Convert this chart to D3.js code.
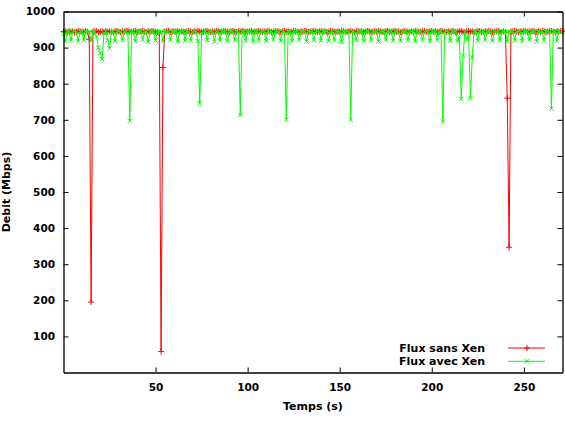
<!DOCTYPE html>
<html>
<head>
<meta charset="utf-8">
<script src="https://cdn.jsdelivr.net/npm/d3@7"></script>
<style>
  body { margin: 0; background: #fff; }
  text { font-family: "DejaVu Sans", sans-serif; font-weight: bold; }
</style>
</head>
<body>
<div id="chart"></div>
<script>
// one sample per second, t = 0 .. 271
const seriesNames = ['Flux sans Xen', 'Flux avec Xen'];
const xTicks = [50, 100, 150, 200, 250];
const yTicks = [100, 200, 300, 400, 500, 600, 700, 800, 900, 1000];

const sansXen = [
  944, 945, 943, 946, 944, 945, 942, 944, 946, 945,
  944, 943, 945, 944, 923, 195, 944, 945, 946, 943,
  944, 945, 943, 946, 944, 945, 944, 942, 945, 946,
  944, 943, 945, 944, 946, 945, 943, 944, 945, 946,
  943, 944, 945, 946, 944, 943, 945, 944, 946, 945,
  944, 943, 940, 58, 845, 944, 945, 946, 943, 944,
  945, 944, 946, 943, 945, 944, 942, 945, 946, 944,
  943, 945, 944, 946, 945, 943, 944, 945, 946, 944,
  943, 945, 944, 946, 945, 943, 944, 946, 945, 944,
  943, 945, 946, 944, 943, 945, 944, 946, 945, 943,
  944, 945, 946, 943, 944, 945, 946, 944, 943, 945,
  944, 946, 945, 943, 944, 945, 946, 944, 943, 945,
  946, 944, 945, 943, 944, 946, 945, 944, 943, 945,
  944, 946, 945, 943, 944, 945, 946, 944, 943, 945,
  946, 944, 945, 943, 944, 946, 945, 944, 943, 945,
  944, 946, 945, 943, 944, 945, 946, 944, 943, 945,
  946, 944, 945, 943, 944, 946, 945, 944, 943, 945,
  944, 946, 945, 943, 944, 945, 946, 944, 943, 945,
  946, 944, 945, 943, 944, 946, 945, 944, 943, 945,
  944, 946, 945, 943, 944, 945, 946, 944, 943, 945,
  946, 944, 945, 943, 944, 946, 945, 944, 943, 945,
  944, 946, 945, 943, 944, 945, 946, 944, 943, 945,
  946, 944, 945, 943, 944, 946, 945, 944, 943, 945,
  944, 946, 945, 943, 944, 945, 946, 944, 943, 945,
  942, 760, 347, 944, 945, 946, 944, 943, 945, 944,
  946, 945, 943, 944, 945, 946, 944, 943, 945, 944,
  946, 945, 943, 944, 945, 946, 944, 943, 945, 944,
  946, 945
];

const avecXen = [
  938, 918, 944, 945, 920, 943, 946, 944, 917, 945,
  943, 921, 946, 944, 942, 919, 945, 944, 930, 900,
  885, 868, 940, 944, 920, 898, 943, 945, 918, 944,
  946, 943, 921, 945, 944, 940, 697, 945, 943, 918,
  945, 944, 946, 922, 943, 945, 916, 944, 946, 943,
  920, 945, 944, 943, 918, 946, 944, 945, 921, 943,
  945, 946, 917, 944, 943, 945, 919, 946, 944, 920,
  943, 945, 944, 918, 745, 940, 944, 946, 921, 943,
  945, 944, 916, 946, 943, 920, 945, 944, 946, 918,
  943, 945, 944, 921, 946, 943, 713, 944, 945, 919,
  946, 943, 944, 917, 945, 946, 920, 943, 944, 945,
  918, 946, 943, 945, 921, 944, 946, 943, 919, 945,
  944, 700, 946, 943, 918, 945, 944, 946, 920, 943,
  945, 944, 917, 946, 943, 945, 921, 944, 946, 943,
  919, 945, 944, 946, 918, 943, 945, 920, 944, 946,
  943, 917, 945, 944, 946, 943, 700, 945, 944, 921,
  946, 943, 945, 918, 944, 946, 943, 920, 945, 944,
  946, 917, 943, 945, 944, 921, 946, 943, 945, 919,
  944, 946, 943, 918, 945, 944, 946, 920, 943, 945,
  944, 917, 946, 943, 945, 921, 944, 946, 943, 918,
  945, 944, 946, 920, 943, 945, 695, 944, 946, 943,
  919, 945, 944, 946, 918, 930, 758, 878, 943, 922,
  935, 760, 873, 945, 944, 919, 946, 943, 945, 920,
  944, 946, 943, 918, 945, 944, 946, 921, 943, 945,
  944, 917, 946, 943, 945, 920, 944, 946, 943, 918,
  945, 944, 946, 921, 943, 945, 944, 917, 946, 943,
  945, 920, 944, 946, 943, 731, 945, 944, 919, 946,
  943, 945
];

const W = 565, H = 423;
const plot = { left: 63.5, right: 562.5, top: 11.5, bottom: 372.5 };

const svg = d3.select('#chart').append('svg')
  .attr('width', W)
  .attr('height', H);

const x = d3.scaleLinear().domain([0, 271]).range([plot.left, plot.right]);
const y = d3.scaleLinear().domain([0, 1000]).range([plot.bottom, plot.top]);

const series = [
  { name: seriesNames[0], values: sansXen, color: '#ff0000', symbol: d3.symbolPlus },
  { name: seriesNames[1], values: avecXen, color: '#00ff00', symbol: d3.symbolTimes }
];

const line = d3.line()
  .x((d, i) => x(i))
  .y(d => y(d));

const markSize = 14;

// lines + markers, red first so green sits on top
series.forEach(s => {
  const g = svg.append('g');
  g.append('path')
    .attr('d', line(s.values))
    .attr('fill', 'none')
    .attr('stroke', s.color)
    .attr('stroke-width', 1);
  g.selectAll('path.mk')
    .data(s.values)
    .enter()
    .append('path')
    .attr('class', 'mk')
    .attr('transform', (d, i) => `translate(${x(i)},${y(d)})`)
    .attr('d', d3.symbol(s.symbol, markSize))
    .attr('fill', 'none')
    .attr('stroke', s.color)
    .attr('stroke-width', 1);
});

// axes, ticks pointing inward on all four sides
function styleAxis(g) {
  g.selectAll('.domain').attr('stroke', '#000').attr('stroke-width', 1.3);
  g.selectAll('.tick line').attr('stroke', '#000').attr('stroke-width', 1);
  g.selectAll('text').attr('font-size', '10.5px').attr('fill', '#000')
    .attr('font-family', '"DejaVu Sans", sans-serif').attr('font-weight', 'bold');
}

svg.append('g')
  .attr('transform', `translate(0,${plot.bottom})`)
  .call(d3.axisBottom(x).tickValues(xTicks).tickFormat(d3.format('d'))
    .tickSizeInner(-5).tickSizeOuter(0).tickPadding(11))
  .call(styleAxis);

svg.append('g')
  .attr('transform', `translate(0,${plot.top})`)
  .call(d3.axisTop(x).tickValues(xTicks).tickSizeInner(-5).tickSizeOuter(0).tickFormat(''))
  .call(styleAxis);

svg.append('g')
  .attr('transform', `translate(${plot.left},0)`)
  .call(d3.axisLeft(y).tickValues(yTicks).tickFormat(d3.format('d'))
    .tickSizeInner(-5).tickSizeOuter(0).tickPadding(8.5))
  .call(styleAxis);

svg.append('g')
  .attr('transform', `translate(${plot.right},0)`)
  .call(d3.axisRight(y).tickValues(yTicks).tickSizeInner(-5).tickSizeOuter(0).tickFormat(''))
  .call(styleAxis);

// axis titles
svg.append('text')
  .attr('x', 313)
  .attr('y', 410)
  .attr('text-anchor', 'middle')
  .style('font-size', '11px')
  .text('Temps (s)');

svg.append('text')
  .attr('transform', 'translate(10,192) rotate(-90)')
  .attr('text-anchor', 'middle')
  .style('font-size', '11px')
  .text('Debit (Mbps)');

// legend
const legend = svg.append('g');
series.forEach((s, i) => {
  const ly = 348 + i * 13.3;
  legend.append('text')
    .attr('x', 485)
    .attr('y', ly + 4)
    .attr('text-anchor', 'end')
    .style('font-size', '11px')
    .text(s.name);
  legend.append('line')
    .attr('x1', 508).attr('x2', 545)
    .attr('y1', ly).attr('y2', ly)
    .attr('stroke', s.color)
    .attr('stroke-width', 1);
  legend.append('path')
    .attr('transform', `translate(527,${ly})`)
    .attr('d', d3.symbol(s.symbol, markSize))
    .attr('fill', 'none')
    .attr('stroke', s.color)
    .attr('stroke-width', 1);
});
</script>
</body>
</html>
